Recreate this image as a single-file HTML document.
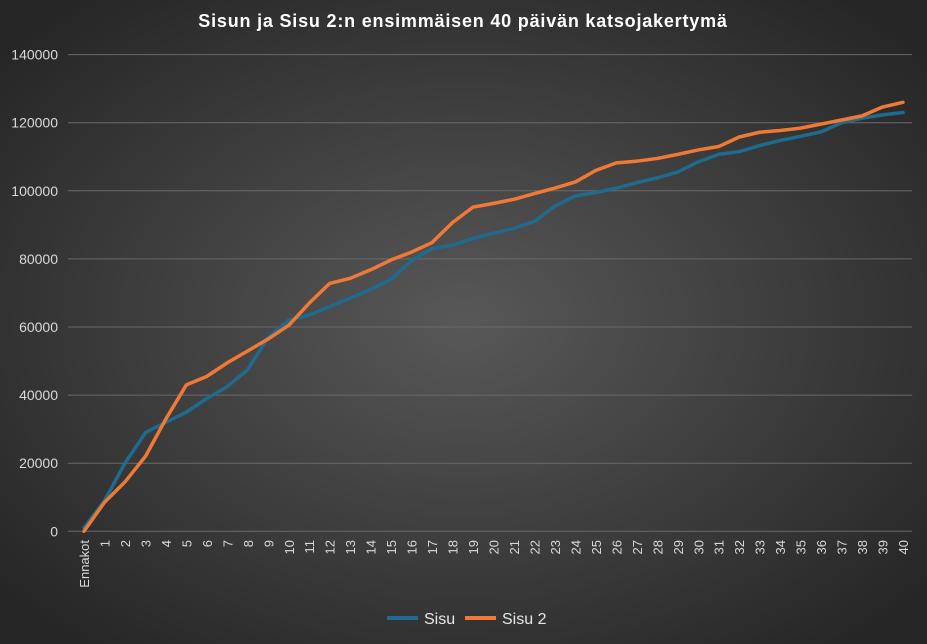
<!DOCTYPE html>
<html><head><meta charset="utf-8"><style>
body{margin:0;width:927px;height:644px;overflow:hidden;background:#2a2a2a}
svg{display:block;font-family:"Liberation Sans",sans-serif}
</style></head><body>
<svg id="c" width="927" height="644">
<defs><radialGradient id="bg" cx="50%" cy="50%" r="65%"><stop offset="0" stop-color="#585858"/><stop offset="1" stop-color="#262626"/></radialGradient></defs>
<rect width="927" height="644" fill="url(#bg)"/>
<text x="463" y="27" text-anchor="middle" fill="#fff" font-size="18" font-weight="bold" letter-spacing="0.8">Sisun ja Sisu 2:n ensimmäisen 40 päivän katsojakertymä</text>
<g id="grid"></g><g id="ylab"></g><g id="xlab"></g><g id="lines"></g>
<g>
<g><line x1="387" y1="618" x2="418" y2="618" stroke="#1f6b8f" stroke-width="4"/><text x="424" y="624" fill="#e6e6e6" font-size="16">Sisu</text></g>
<g><line x1="465" y1="618" x2="496" y2="618" stroke="#f07a35" stroke-width="4"/><text x="502" y="624" fill="#e6e6e6" font-size="16">Sisu 2</text></g>
</g>
</svg>
<script>
const categories=["Ennakot"];for(let i=1;i<=40;i++)categories.push(String(i));
const sisu=[1000,9000,20000,29000,32000,35000,39000,42500,47500,57000,62000,63500,66000,68500,71000,74000,79500,83000,84000,86000,87500,89000,91000,95500,98500,99500,100800,102400,103800,105500,108500,110700,111500,113300,114800,116000,117300,120000,121300,122300,123000];
const sisu2=[0,8500,14500,22000,33000,43000,45500,49500,53000,56500,60500,67000,72800,74300,76800,79700,82000,84800,90700,95200,96300,97500,99200,100800,102600,106000,108200,108700,109500,110700,112000,113000,115800,117200,117700,118400,119600,120800,122000,124600,126000];
const yTicks=[0,20000,40000,60000,80000,100000,120000,140000];
const NS="http://www.w3.org/2000/svg";
const y=v=>531.3-v/140000*(531.3-54.6);
const x=i=>84+i*(903-84)/40;
function mk(t,a,p){const e=document.createElementNS(NS,t);for(const k in a)e.setAttribute(k,a[k]);p.appendChild(e);return e;}
const g=document.getElementById('grid'),yl=document.getElementById('ylab'),xl=document.getElementById('xlab'),ln=document.getElementById('lines');
yTicks.forEach(v=>{
const l=mk('line',{x1:68,x2:912,y1:y(v),y2:y(v),stroke:'#6a6a6a','stroke-width':1},g);


const t=mk('text',{x:58,y:y(v)+5,'text-anchor':'end',fill:'#d9d9d9','font-size':14},yl);t.textContent=v;


});
categories.forEach((c,i)=>{
const t=mk('text',{transform:`translate(${x(i)+5},${540}) rotate(-90)`,'text-anchor':'end',fill:'#d9d9d9','font-size':13},xl);t.textContent=c;


});
function series(d,col,name){
const p=mk('polyline',{points:d.map((v,i)=>x(i)+','+y(v)).join(' '),fill:'none',stroke:col,'stroke-width':3.5,'stroke-linejoin':'round','stroke-linecap':'round'},ln);


}
series(sisu,'#1f6b8f','sisu-line');
series(sisu2,'#f07a35','sisu-2-line');
</script>
</body></html>
